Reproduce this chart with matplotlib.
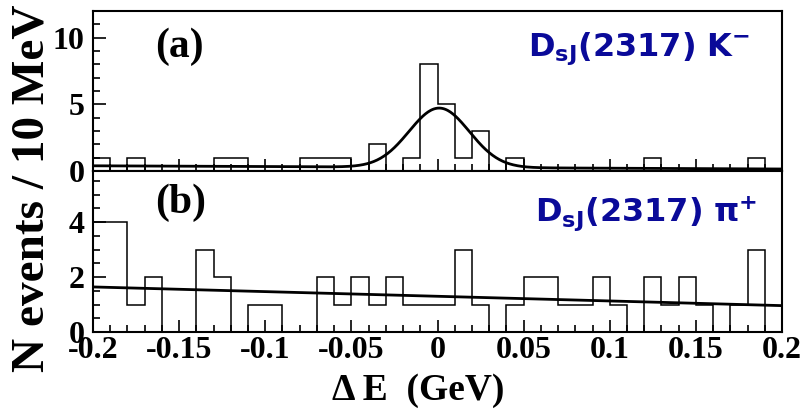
import numpy as np
import matplotlib
matplotlib.use("Agg")
import matplotlib.pyplot as plt
from matplotlib.ticker import MultipleLocator, FixedLocator

# ---- data ----
bin_edges = np.round(np.arange(-0.20, 0.2001, 0.01), 3)          # 10 MeV bins
counts_a = [1, 0, 1, 0, 0, 0, 0, 1, 1, 0,
            0, 0, 1, 1, 1, 0, 2, 0, 1, 8,
            5, 1, 3, 0, 1, 0, 0, 0, 0, 0,
            0, 0, 1, 0, 0, 0, 0, 0, 1, 0]
counts_b = [4, 4, 1, 2, 0, 0, 3, 2, 0, 1,
            1, 0, 0, 2, 1, 2, 1, 2, 1, 1,
            1, 3, 1, 0, 1, 2, 2, 1, 1, 2,
            1, 0, 2, 1, 2, 1, 0, 1, 3, 0]
# fit parameters (a): gaussian + linear background; (b): linear background
fit_a_amp, fit_a_mean, fit_a_sigma = 4.45, 0.001, 0.0175
fit_a_b0, fit_a_b1 = 0.27, -0.6
fit_b_b0, fit_b_b1 = 1.30, -1.7

xticks = [-0.2, -0.15, -0.1, -0.05, 0, 0.05, 0.1, 0.15, 0.2]
xticklabels = ["-0.2", "-0.15", "-0.1", "-0.05", "0", "0.05", "0.1", "0.15", "0.2"]
yticks_a = [0, 5, 10]
yticks_b = [0, 2, 4]
ylim_a = (0, 12)
ylim_b = (0, 5.86)
label_a = r"$\mathbf{D_{sJ}(2317)\ K^{-}}$"
label_b = r"$\mathbf{D_{sJ}(2317)\ \pi^{+}}$"

plt.rcParams['mathtext.fontset'] = 'dejavusans'
serif = ['Liberation Serif', 'DejaVu Serif']
blue = '#0a0a99'

W, H = 805, 412
fig = plt.figure(figsize=(W / 100, H / 100), dpi=100)
left = 93 / W
width = (782 - 93) / W
ax_a = fig.add_axes([left, 1 - 171 / H, width, (171 - 11) / H])
ax_b = fig.add_axes([left, 1 - 332 / H, width, (332 - 171) / H])

xf = np.linspace(-0.2, 0.2, 801)
fit_a = fit_a_b0 + fit_a_b1 * xf + fit_a_amp * np.exp(-0.5 * ((xf - fit_a_mean) / fit_a_sigma) ** 2)
fit_b = fit_b_b0 + fit_b_b1 * xf

for ax, cnt, fit, ylim, yt in [(ax_a, counts_a, fit_a, ylim_a, yticks_a),
                               (ax_b, counts_b, fit_b, ylim_b, yticks_b)]:
    ax.stairs(cnt, bin_edges, color='black', lw=1.1, baseline=0)
    ax.plot(xf, fit, color='black', lw=2.0)
    ax.set_xlim(-0.2, 0.2)
    ax.set_ylim(*ylim)
    ax.xaxis.set_major_locator(FixedLocator(xticks))
    ax.xaxis.set_minor_locator(MultipleLocator(0.01))
    ax.yaxis.set_major_locator(FixedLocator(yt))
    ax.yaxis.set_minor_locator(MultipleLocator(1 if ax is ax_a else 0.5))
    ax.tick_params(which='both', direction='in', top=False, right=False, width=1.2)
    ax.tick_params(which='major', length=9)
    ax.tick_params(which='minor', length=5)
    ax.tick_params(axis='y', pad=6)
    for s in ax.spines.values():
        s.set_linewidth(1.5)
    for lab in ax.get_yticklabels():
        lab.set_fontfamily(serif)
        lab.set_fontweight('bold')
        lab.set_fontsize(23)

ax_a.set_xticklabels([])
ax_b.set_xticklabels(xticklabels, fontfamily=serif, fontweight='bold', fontsize=23)
ax_b.tick_params(axis='x', pad=3)

ax_a.text(155 / W, 1 - 47 / H, "(a)", transform=fig.transFigure, ha='left', va='center',
          fontfamily=serif, fontweight='bold', fontsize=30)
ax_b.text(155 / W, 1 - 203 / H, "(b)", transform=fig.transFigure, ha='left', va='center',
          fontfamily=serif, fontweight='bold', fontsize=30)
fig.text(750 / W, 1 - 56 / H, label_a, color=blue, fontsize=23, ha='right', va='baseline')
fig.text(757 / W, 1 - 222 / H, label_b, color=blue, fontsize=23, ha='right', va='baseline')

fig.text(32 / W, 1 - 188 / H, "N events / 10 MeV", rotation=90, ha='center', va='center',
         fontfamily=serif, fontweight='bold', fontsize=34)
fig.text(418 / W, 1 - 400 / H, "\u0394 E  (GeV)", ha='center', va='baseline',
         fontfamily=serif, fontweight='bold', fontsize=27)

fig.savefig("out.png", dpi=100, facecolor='white')
